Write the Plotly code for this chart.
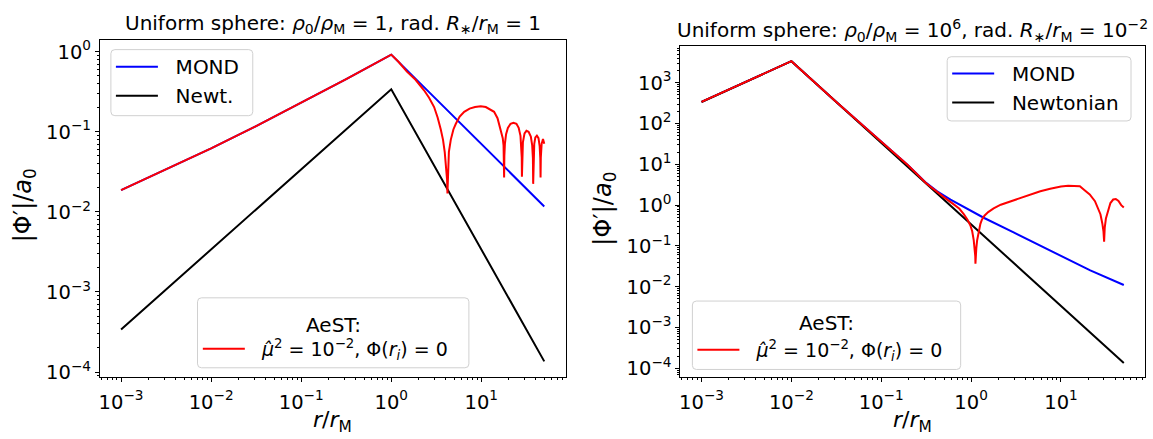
import plotly.graph_objects as go

# ---------------- data ----------------
# Left panel: rho0/rhoM = 1, R*/rM = 1
rL_newt = [1e-3, 1.0, 50.0]
gL_newt = [3.4e-4, 0.34, 1.36e-4]

rL_mond = [1e-3, 3.16e-3, 0.01, 0.0316, 0.1, 0.316, 1.0, 10.0, 50.0]
gL_mond = [0.0187, 0.0337, 0.0622, 0.118, 0.229, 0.454, 0.92, 0.0703, 0.0117]

rL_aest = [1e-3, 3.16e-3, 0.01, 0.0316, 0.1, 0.316, 1.0,
           1.202, 1.493, 1.862, 2.312, 2.63, 2.992, 3.273, 3.548, 3.758, 3.926,
           4.074, 4.169, 4.207,
           4.266, 4.365, 4.581, 4.898, 5.212, 5.754, 6.457, 7.413, 8.511, 9.863,
           11.22, 12.59, 13.87, 15.14, 16.48, 17.30, 17.66, 17.82, 17.91,
           18.03, 18.28, 18.84, 19.72, 21.13, 22.75, 24.55, 26.0, 27.23, 27.86,
           28.12, 28.25,
           28.44, 28.97, 30.2, 31.7, 33.5, 35.48, 36.73, 37.41, 37.67,
           37.93, 38.73, 39.81, 41.4, 43.15, 44.46, 45.19, 45.5,
           45.8, 46.77, 48.42, 50.0]
gL_aest = [0.0187, 0.0337, 0.0622, 0.118, 0.229, 0.454, 0.92,
           0.75, 0.565, 0.447, 0.33, 0.266, 0.204, 0.151, 0.107, 0.0794, 0.0558,
           0.038, 0.0251, 0.017,
           0.0355, 0.0562, 0.0794, 0.107, 0.126, 0.155, 0.178, 0.195, 0.204, 0.208,
           0.204, 0.191, 0.178, 0.148, 0.107, 0.0832, 0.0676, 0.0447, 0.027,
           0.05, 0.0708, 0.0933, 0.112, 0.126, 0.13, 0.126, 0.112, 0.0891, 0.0661,
           0.0479, 0.0275,
           0.05, 0.0741, 0.0955, 0.103, 0.10, 0.0871, 0.0676, 0.0468, 0.0224,
           0.0447, 0.0708, 0.0851, 0.0895, 0.0832, 0.0661, 0.0468, 0.0269,
           0.0479, 0.0708, 0.0813, 0.0708]

# Right panel: rho0/rhoM = 1e6, R*/rM = 1e-2
rR_newt = [1e-3, 0.01, 50.0]
gR_newt = [337.0, 3372.0, 1.35e-4]

rR_mond = [1e-3, 0.01, 0.0316, 0.1, 0.2, 0.316, 0.419, 0.59, 1.38, 2.97,
           5.89, 11.67, 21.18, 50.0]
gR_mond = [338.0, 3373.0, 338.0, 34.7, 9.3, 3.5, 2.18, 1.37, 0.49, 0.214,
           0.1, 0.0479, 0.0251, 0.011]

rR_aest = [1e-3, 0.01, 0.0316, 0.1, 0.2, 0.316, 0.419, 0.501, 0.641, 0.741,
           0.828, 0.912, 0.982, 1.028, 1.069, 1.096, 1.112, 1.117,
           1.127, 1.143, 1.167, 1.202, 1.268, 1.318, 1.406, 1.549, 1.78, 2.138,
           2.97, 4.169, 5.89, 7.586, 10.0, 12.02, 14.13, 16.22, 18.03, 20.89,
           23.88, 25.7, 27.48, 28.84, 29.72, 30.2,
           30.69, 31.62, 33.19, 35.48, 38.11, 40.74, 43.65, 46.77, 50.0]
gR_aest = [338.0, 3373.0, 338.0, 34.7, 9.3, 3.45, 2.05, 1.55, 1.04, 0.813,
           0.598, 0.437, 0.316, 0.229, 0.138, 0.0891, 0.0562, 0.0366,
           0.0631, 0.0891, 0.138, 0.209, 0.347, 0.437, 0.55, 0.676, 0.832, 1.023,
           1.30, 1.698, 2.18, 2.512, 2.87, 2.985, 3.0, 2.91, 2.38, 1.82,
           1.25, 0.891, 0.598, 0.355, 0.224, 0.126,
           0.282, 0.468, 0.708, 1.122, 1.371, 1.413, 1.259, 1.0, 0.87]

# tick labels
x_tickvals = [1e-3, 1e-2, 1e-1, 1e0, 1e1]
x_ticktext = ["10<sup>−3</sup>", "10<sup>−2</sup>", "10<sup>−1</sup>",
              "10<sup>0</sup>", "10<sup>1</sup>"]
yL_tickvals = [1e-4, 1e-3, 1e-2, 1e-1, 1e0]
yL_ticktext = ["10<sup>−4</sup>", "10<sup>−3</sup>", "10<sup>−2</sup>",
               "10<sup>−1</sup>", "10<sup>0</sup>"]
yR_tickvals = [1e-4, 1e-3, 1e-2, 1e-1, 1e0, 1e1, 1e2, 1e3]
yR_ticktext = ["10<sup>−4</sup>", "10<sup>−3</sup>", "10<sup>−2</sup>",
               "10<sup>−1</sup>", "10<sup>0</sup>", "10<sup>1</sup>",
               "10<sup>2</sup>", "10<sup>3</sup>"]

title_L = "Uniform sphere: <i>ρ</i><sub>0</sub>/<i>ρ</i><sub>M</sub> = 1, rad. <i>R</i><sub>∗</sub>/<i>r</i><sub>M</sub> = 1"
title_R = "Uniform sphere: <i>ρ</i><sub>0</sub>/<i>ρ</i><sub>M</sub> = 10<sup>6</sup>, rad. <i>R</i><sub>∗</sub>/<i>r</i><sub>M</sub> = 10<sup>−2</sup>"
xlabel = "<i>r</i>/<i>r</i><sub>M</sub>"
ylabel = "|Φ′|/<i>a</i><sub>0</sub>"
aest_title = "AeST:"
aest_label = "<i>μ̂</i><sup>2</sup> = 10<sup>−2</sup>, Φ(<i>r<sub>i</sub></i>) = 0"
NB = "\u00a0\u00a0"

# ---------------- figure ----------------
W, H = 1153, 439
FONT = "DejaVu Sans"


def px(x):
    return x / W


def py(y):
    return 1 - y / H


fig = go.Figure()

lw = 2
fig.add_trace(go.Scatter(x=rL_mond, y=gL_mond, mode="lines", name=NB + "MOND",
                         line=dict(color="#0000ff", width=lw),
                         xaxis="x", yaxis="y", legend="legend"))
fig.add_trace(go.Scatter(x=rL_newt, y=gL_newt, mode="lines", name=NB + "Newt.",
                         line=dict(color="black", width=lw),
                         xaxis="x", yaxis="y", legend="legend"))
fig.add_trace(go.Scatter(x=rL_aest, y=gL_aest, mode="lines", name=NB + aest_label,
                         line=dict(color="#ff0000", width=lw),
                         xaxis="x", yaxis="y", legend="legend2"))

fig.add_trace(go.Scatter(x=rR_mond, y=gR_mond, mode="lines", name=NB + "MOND",
                         line=dict(color="#0000ff", width=lw),
                         xaxis="x2", yaxis="y2", legend="legend3"))
fig.add_trace(go.Scatter(x=rR_newt, y=gR_newt, mode="lines", name=NB + "Newtonian",
                         line=dict(color="black", width=lw),
                         xaxis="x2", yaxis="y2", legend="legend3"))
fig.add_trace(go.Scatter(x=rR_aest, y=gR_aest, mode="lines", name=NB + aest_label,
                         line=dict(color="#ff0000", width=lw),
                         xaxis="x2", yaxis="y2", legend="legend4"))


def minor_vals(lo, hi):
    vals = []
    for e in range(lo, hi + 1):
        for k in range(2, 10):
            vals.append(k * 10.0 ** e)
    return vals


TICKFONT = dict(family=FONT, size=19.5, color="black")


def axis_common(**kw):
    d = dict(type="log", showgrid=False, zeroline=False, showline=True,
             linecolor="black", linewidth=1, mirror=True, ticks="outside",
             ticklen=4, tickwidth=1, tickcolor="black", tickfont=TICKFONT)
    d.update(kw)
    return d


xL0, xL1 = 99, 565
xR0, xR1 = 680, 1145
yL0, yL1 = 38, 383
yR0, yR1 = 44, 383

MINOR = dict(ticks="outside", ticklen=2, tickcolor="black", tickwidth=0.8)

fig.update_layout(
    width=W, height=H, margin=dict(l=0, r=0, t=0, b=0),
    paper_bgcolor="white", plot_bgcolor="white",
    font=dict(family=FONT, color="black"),
    showlegend=True,
    xaxis=axis_common(domain=[px(xL0), px(xL1)], range=[-3.235, 1.935],
                      tickvals=x_tickvals, ticktext=x_ticktext, anchor="y",
                      ticklabelstandoff=3,
                      minor=dict(tickvals=minor_vals(-4, 1), **MINOR)),
    yaxis=axis_common(domain=[py(yL1), py(yL0)], range=[-4.065, 0.145],
                      tickvals=yL_tickvals, ticktext=yL_ticktext, anchor="x",
                      minor=dict(tickvals=minor_vals(-5, 0), **MINOR)),
    xaxis2=axis_common(domain=[px(xR0), px(xR1)], range=[-3.235, 1.935],
                       tickvals=x_tickvals, ticktext=x_ticktext, anchor="y2",
                       ticklabelstandoff=3,
                       minor=dict(tickvals=minor_vals(-4, 1), **MINOR)),
    yaxis2=axis_common(domain=[py(yR1), py(yR0)], range=[-4.22, 3.90],
                       tickvals=yR_tickvals, ticktext=yR_ticktext, anchor="x2",
                       minor=dict(tickvals=minor_vals(-5, 3), **MINOR)),
)

LEG = dict(bgcolor="rgba(0,0,0,0)", borderwidth=0, font=dict(family=FONT, size=20),
           itemwidth=42, tracegroupgap=0, xanchor="left", yanchor="middle")
fig.update_layout(
    legend=dict(x=px(110), y=py(80), **LEG),
    legend2=dict(x=px(197), y=py(354), **{**LEG, "font": dict(family=FONT, size=19)}),
    legend3=dict(x=px(947), y=py(87), **LEG),
    legend4=dict(x=px(692), y=py(355), **{**LEG, "font": dict(family=FONT, size=19)}),
)


# legend frames (rounded boxes)
def rbox(x0, y0, x1, y1, r=4):
    def P(x, y):
        return f"{px(x):.6f},{py(y):.6f}"
    return (f"M {P(x0 + r, y0)} L {P(x1 - r, y0)} Q {P(x1, y0)} {P(x1, y0 + r)} "
            f"L {P(x1, y1 - r)} Q {P(x1, y1)} {P(x1 - r, y1)} "
            f"L {P(x0 + r, y1)} Q {P(x0, y1)} {P(x0, y1 - r)} "
            f"L {P(x0, y0 + r)} Q {P(x0, y0)} {P(x0 + r, y0)} Z")


boxes = [(110, 47.7, 252, 115.3), (196.7, 301.7, 468.3, 373.3),
         (947, 55, 1131, 120.7), (692, 305, 960.5, 375)]
shapes = []
for b in boxes:
    shapes.append(dict(type="path", path=rbox(*b), xref="paper", yref="paper",
                       fillcolor="rgba(255,255,255,0.8)",
                       line=dict(color="#d0d0d0", width=1), layer="above"))
fig.update_layout(shapes=shapes)

ann = []
ann.append(dict(text=title_L, x=px((xL0 + xL1) / 2), y=py(22), xref="paper", yref="paper",
                showarrow=False, xanchor="center", yanchor="middle",
                font=dict(family=FONT, size=20, color="black")))
ann.append(dict(text=title_R, x=px((xR0 + xR1) / 2), y=py(28), xref="paper", yref="paper",
                showarrow=False, xanchor="center", yanchor="middle",
                font=dict(family=FONT, size=20, color="black")))
for xc in [(xL0 + xL1) / 2, (xR0 + xR1) / 2]:
    ann.append(dict(text=xlabel, x=px(xc), y=py(428), xref="paper", yref="paper",
                    showarrow=False, xanchor="center", yanchor="middle",
                    font=dict(family=FONT, size=22, color="black")))
ann.append(dict(text=ylabel, x=px(23), y=py(207), xref="paper", yref="paper",
                showarrow=False, xanchor="center", yanchor="middle", textangle=-90,
                font=dict(family=FONT, size=24, color="black")))
ann.append(dict(text=ylabel, x=px(604), y=py(210), xref="paper", yref="paper",
                showarrow=False, xanchor="center", yanchor="middle", textangle=-90,
                font=dict(family=FONT, size=24, color="black")))
ann.append(dict(text=aest_title, x=px((196.7 + 468.3) / 2), y=py(329), xref="paper",
                yref="paper", showarrow=False, xanchor="center", yanchor="middle",
                font=dict(family=FONT, size=20, color="black")))
ann.append(dict(text=aest_title, x=px((692 + 960.5) / 2), y=py(327), xref="paper",
                yref="paper", showarrow=False, xanchor="center", yanchor="middle",
                font=dict(family=FONT, size=20, color="black")))
fig.update_layout(annotations=ann)

fig.write_html("out.html")
